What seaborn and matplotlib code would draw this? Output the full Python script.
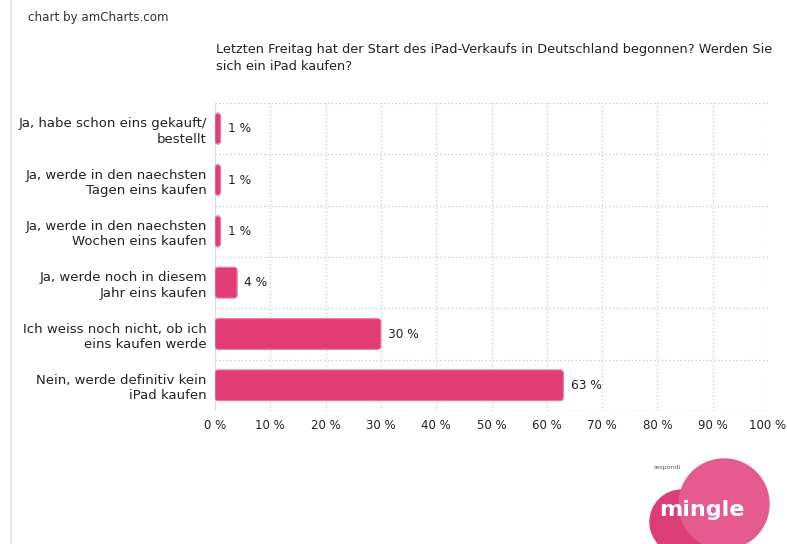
import numpy as np
import pandas as pd
import matplotlib.pyplot as plt
import seaborn as sns
from matplotlib.patches import FancyBboxPatch, Circle, Rectangle

antworten = [
    "Ja, habe schon eins gekauft/\nbestellt",
    "Ja, werde in den naechsten\nTagen eins kaufen",
    "Ja, werde in den naechsten\nWochen eins kaufen",
    "Ja, werde noch in diesem\nJahr eins kaufen",
    "Ich weiss noch nicht, ob ich\neins kaufen werde",
    "Nein, werde definitiv kein\niPad kaufen",
]
prozent = [1, 1, 1, 4, 30, 63]
x_ticks = [0, 10, 20, 30, 40, 50, 60, 70, 80, 90, 100]

df = pd.DataFrame({"Antwort": antworten, "Prozent": prozent})

sns.set_theme(style="white")
plt.rcParams['font.family'] = ['DejaVu Sans']

fig = plt.figure(figsize=(7.87, 5.44), dpi=100)
ax = fig.add_axes([215 / 787, 1 - 411 / 544, 553 / 787, 308 / 544])

sns.barplot(data=df, x="Prozent", y="Antwort", orient="h",
            color="#e23c74", width=0.6, saturation=1, ax=ax)

# rounded bars
for p in list(ax.patches):
    x, y = p.get_x(), p.get_y()
    w, h = p.get_width(), p.get_height()
    p.remove()
    ax.add_patch(FancyBboxPatch((x, y), w, h,
                                boxstyle="round,pad=0,rounding_size=0.6",
                                mutation_aspect=0.12,
                                facecolor="#e23c74", edgecolor="#f07aa0",
                                linewidth=0.8, zorder=3))

for i, v in enumerate(prozent):
    ax.text(v + 1.3, i, f"{v} %", va="center", ha="left",
            fontsize=8.7, color="#222222")

ax.set_xlim(0, 100)
ax.set_ylim(len(antworten) - 0.5, -0.5)
ax.set_xticks(x_ticks)
ax.set_xticklabels([f"{t} %" for t in x_ticks], fontsize=8.5, color="#222222")
ax.set_yticks(range(len(antworten)))
ax.set_yticklabels(antworten, fontsize=9.5, color="#222222",
                   linespacing=1.25, multialignment="right")
ax.set_xlabel("")
ax.set_ylabel("")
ax.tick_params(axis="both", length=0, pad=6)

ax.set_yticks(np.arange(-0.5, len(antworten), 1), minor=True)
ax.grid(True, axis="x", which="major", color="#c8c8c8",
        linestyle=(0, (1, 2)), linewidth=0.9, zorder=0)
ax.grid(True, axis="y", which="minor", color="#c8c8c8",
        linestyle=(0, (1, 2)), linewidth=0.9, zorder=0)
ax.set_axisbelow(True)
for s in ax.spines.values():
    s.set_visible(False)
ax.axvline(0, color="#dddddd", linewidth=0.8, zorder=1)
ax.axhline(len(antworten) - 0.5, color="#dddddd", linewidth=0.8, zorder=1)

# header texts
fig.text(28 / 787, 1 - 17 / 544, "chart by amCharts.com", fontsize=8.6,
         color="#333333", va="center")
fig.text(216 / 787, 1 - 58 / 544,
         "Letzten Freitag hat der Start des iPad-Verkaufs in Deutschland "
         "begonnen? Werden Sie\nsich ein iPad kaufen?",
         fontsize=9.3, color="#222222", va="center", linespacing=1.35)

# left frame line
fig.add_artist(Rectangle((10 / 787, 0), 0.001, 1, transform=fig.transFigure,
                         color="#e6e6e6", linewidth=0.6))

# mingle logo
lax = fig.add_axes([640 / 787, 0, 140 / 787, 90 / 544])
lax.set_xlim(0, 140)
lax.set_ylim(0, 90)
lax.set_aspect("equal")
lax.axis("off")
lax.add_patch(Circle((42, 22), 32, color="#dc3d76"))
lax.add_patch(Circle((84, 40), 45, color="#e55a8f"))
lax.text(62, 34, "mingle", fontsize=16, fontweight="bold", color="white",
         ha="center", va="center")
lax.text(27, 76, "respondi", fontsize=4.5, color="#555555",
         ha="center", va="center")

fig.savefig("out.png", dpi=100, facecolor="white")
plt.close(fig)
